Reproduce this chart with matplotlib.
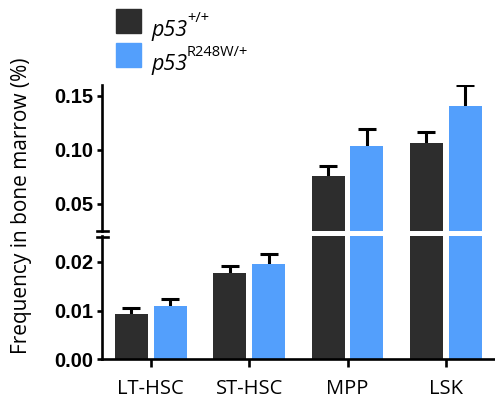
import numpy as np
import matplotlib; matplotlib.use('Agg')
import matplotlib.pyplot as plt
from matplotlib.patches import Rectangle

categories = ['LT-HSC', 'ST-HSC', 'MPP', 'LSK']
wt_mean = [0.0093, 0.0177, 0.0756, 0.1062]
wt_err = [0.0013, 0.0015, 0.0096, 0.0102]
mut_mean = [0.0109, 0.0195, 0.1034, 0.1405]
mut_err = [0.0014, 0.0022, 0.0160, 0.0195]
lower_ticks = [0.00, 0.01, 0.02]
upper_ticks = [0.05, 0.10, 0.15]

BLACK = '#2d2d2d'
BLUE = '#539ffc'
W = 495 / 100; H = 407 / 100

fig = plt.figure(figsize=(W, H), dpi=100)
left, right = 101.7 / 495, 1.0
ax_lo = fig.add_axes([left, 1 - 359.3 / 407, right - left, (359.3 - 236) / 407])
ax_hi = fig.add_axes([left, 1 - 231 / 407, right - left, (231 - 85) / 407], sharex=ax_lo)

x = np.arange(len(categories))
bw, off = 0.336, 0.198
for ax in (ax_lo, ax_hi):
    ax.bar(x - off, wt_mean, bw, color=BLACK, zorder=2)
    ax.bar(x + off, mut_mean, bw, color=BLUE, zorder=2)
    # symmetric bars drawn behind, so only the upper half shows
    ax.errorbar(x - off, wt_mean, yerr=wt_err, fmt='none',
                ecolor='black', elinewidth=2.2, capsize=6.8, capthick=2.2, zorder=1)
    ax.errorbar(x + off, mut_mean, yerr=mut_err, fmt='none',
                ecolor='black', elinewidth=2.2, capsize=6.8, capthick=2.2, zorder=1)
    for s in ('top', 'right'):
        ax.spines[s].set_visible(False)
    ax.spines['left'].set_linewidth(1.9)
    ax.spines['bottom'].set_linewidth(1.9)
    ax.tick_params(axis='y', width=1.9, length=3.6, pad=2.5)

ax_lo.set_xlim(-0.5, 3.5)
ax_lo.set_ylim(0, 0.0253)
ax_hi.set_ylim(0.025, 0.16)
ax_hi.spines['bottom'].set_visible(False)
ax_hi.tick_params(axis='x', bottom=False, labelbottom=False)
ax_lo.set_xticks(x)
ax_lo.set_xticklabels(categories, fontfamily='Open Sans', fontsize=14.5)
ax_lo.tick_params(axis='x', width=1.9, length=6, pad=8.5)
ax_lo.set_yticks(lower_ticks)
ax_lo.set_yticklabels([f'{v:.2f}' for v in lower_ticks])
ax_hi.set_yticks(upper_ticks)
ax_hi.set_yticklabels([f'{v:.2f}' for v in upper_ticks])
for ax in (ax_lo, ax_hi):
    for lab in ax.get_yticklabels():
        lab.set_fontfamily('Liberation Sans')
        lab.set_fontweight('bold')
        lab.set_fontsize(14.5)

# break marks on the y axis
for yy in (230.7, 237.2):
    fig.add_artist(plt.Line2D([96.5 / 495, 107.5 / 495], [1 - yy / 407, 1 - yy / 407],
                              color='black', lw=1.9))

fig.text(22 / 495, 1 - 206 / 407, 'Frequency in bone marrow (%)', rotation=90,
         ha='center', va='center', fontfamily='Open Sans', fontsize=15)

# legend
for y0, col in ((9.3, BLACK), (43.3, BLUE)):
    fig.add_artist(Rectangle((115.5 / 495, 1 - (y0 + 24) / 407), 25 / 495, 24 / 407,
                             transform=fig.transFigure, color=col))
for yb, sup in ((36, '+/+'), (70, 'R248W/+')):
    fig.text(151 / 495, 1 - yb / 407, 'p53', fontfamily='Open Sans', style='italic',
             fontsize=15.5, va='baseline')
    fig.text(187 / 495, 1 - (yb - 14) / 407, sup, fontfamily='Open Sans',
             fontsize=10.5, va='baseline')

fig.savefig('out.png', dpi=100)
